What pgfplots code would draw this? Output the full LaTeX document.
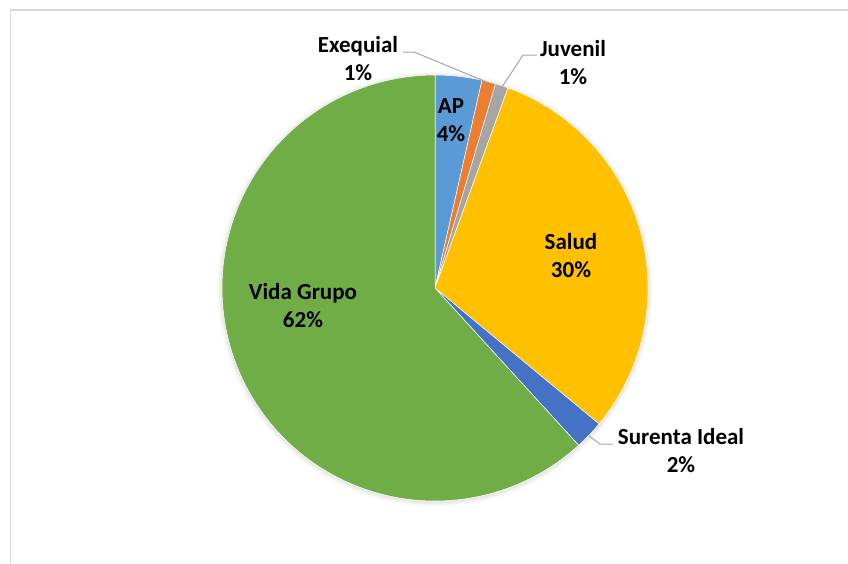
\documentclass[border=0pt]{standalone}
\usepackage{pgfplots}
\usepackage{pgfplotstable}
\pgfplotsset{compat=1.18}
\usepackage{fontspec}
\setmainfont{Carlito}
\definecolor{cAP}{HTML}{5B9BD5}
\definecolor{cEx}{HTML}{ED7D31}
\definecolor{cJu}{HTML}{A5A5A5}
\definecolor{cSa}{HTML}{FFC000}
\definecolor{cSu}{HTML}{4472C4}
\definecolor{cVi}{HTML}{70AD47}
\definecolor{leader}{HTML}{A6A6A6}
\definecolor{frame}{HTML}{D9D9D9}

\pgfplotstableread{
name value
AP 3.54
Exequial 1.05
Juvenil 0.98
Salud 30.44
Surenta 2.21
Vida 61.78
}\piedata

\begin{document}
\begin{tikzpicture}
\pgfplotstablegetelem{0}{value}\of\piedata \let\vA\pgfplotsretval
\pgfplotstablegetelem{1}{value}\of\piedata \let\vB\pgfplotsretval
\pgfplotstablegetelem{2}{value}\of\piedata \let\vC\pgfplotsretval
\pgfplotstablegetelem{3}{value}\of\piedata \let\vD\pgfplotsretval
\pgfplotstablegetelem{4}{value}\of\piedata \let\vE\pgfplotsretval
\pgfplotstablegetelem{5}{value}\of\piedata \let\vF\pgfplotsretval
\pgfmathsetmacro\aO{90}
\pgfmathsetmacro\aA{\aO-3.6*\vA}
\pgfmathsetmacro\aB{\aA-3.6*\vB}
\pgfmathsetmacro\aC{\aB-3.6*\vC}
\pgfmathsetmacro\aD{\aC-3.6*\vD}
\pgfmathsetmacro\aE{\aD-3.6*\vE}
\pgfmathsetmacro\aF{\aE-3.6*\vF}
\useasboundingbox (0,0) rectangle (848pt,563pt);
\begin{axis}[
  at={(0,0)}, anchor=south west,
  scale only axis, width=848pt, height=563pt,
  xmin=0, xmax=848, ymin=0, ymax=563, y dir=reverse,
  hide axis, clip=false,
  samples=120,
]
% frame
\draw[frame, line width=1.5pt] (axis cs:10.5,563) -- (axis cs:10.5,10) -- (axis cs:848,10);
% soft shadow
\fill[black, opacity=0.02] (axis cs:435,289) circle[radius=218pt];
\fill[black, opacity=0.03] (axis cs:435,289) circle[radius=216pt];
\fill[black, opacity=0.04] (axis cs:435,289) circle[radius=214.5pt];
% slices
\addplot[fill=cAP, draw=white, line width=0.5pt, domain=\aA:\aO] ({435+213*cos(x)},{288-213*sin(x)}) -- (axis cs:435,288) -- cycle;
\addplot[fill=cEx, draw=white, line width=0.5pt, domain=\aB:\aA] ({435+213*cos(x)},{288-213*sin(x)}) -- (axis cs:435,288) -- cycle;
\addplot[fill=cJu, draw=white, line width=0.5pt, domain=\aC:\aB] ({435+213*cos(x)},{288-213*sin(x)}) -- (axis cs:435,288) -- cycle;
\addplot[fill=cSa, draw=white, line width=0.5pt, domain=\aD:\aC] ({435+213*cos(x)},{288-213*sin(x)}) -- (axis cs:435,288) -- cycle;
\addplot[fill=cSu, draw=white, line width=0.5pt, domain=\aE:\aD] ({435+213*cos(x)},{288-213*sin(x)}) -- (axis cs:435,288) -- cycle;
\addplot[fill=cVi, draw=white, line width=0.5pt, domain=\aF:\aE] ({435+213*cos(x)},{288-213*sin(x)}) -- (axis cs:435,288) -- cycle;
% leader lines
\draw[leader, line width=1pt] (axis cs:403,52) -- (axis cs:414,52) -- (axis cs:489,83);
\draw[leader, line width=1pt] (axis cs:537,55) -- (axis cs:523,55) -- (axis cs:502,87);
\draw[leader, line width=1pt] (axis cs:613,444) -- (axis cs:600,444) -- (axis cs:589,436);
% labels
\tikzset{lab/.style={align=center, font=\fontsize{23}{28}\selectfont\bfseries, inner sep=0pt}}
\node[lab] at (axis cs:451,120) {AP\\4\%};
\node[lab] at (axis cs:358,59) {Exequial\\1\%};
\node[lab] at (axis cs:573,63) {Juvenil\\1\%};
\node[lab] at (axis cs:571,256) {Salud\\30\%};
\node[lab] at (axis cs:681,451) {Surenta Ideal\\2\%};
\node[lab] at (axis cs:303,306) {Vida Grupo\\62\%};
\end{axis}
\end{tikzpicture}
\end{document}
